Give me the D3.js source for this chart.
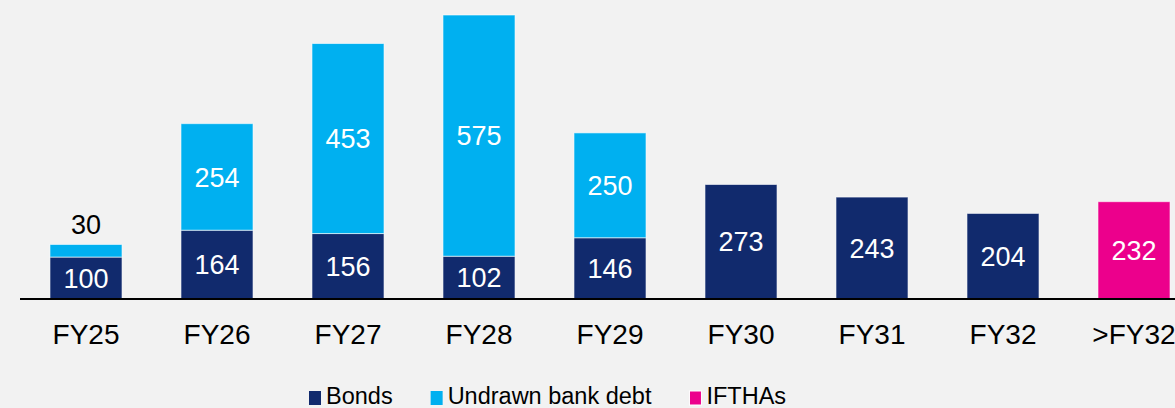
<!DOCTYPE html>
<html>
<head>
	<meta charset="utf-8">
	<title>Debt maturity profile</title>
	<style>
		html, body {
			margin: 0;
			padding: 0;
			background: #f2f2f2;
			overflow: hidden;
		}
		svg {
			display: block;
			font-family: 'Liberation Sans', Arial, sans-serif;
		}
	</style>
</head>
<body>
	<svg width="1175" height="408"></svg>
<script src="https://d3js.org/d3.v7.min.js"></script>
<script>

	// data
	const categories = ['FY25', 'FY26', 'FY27', 'FY28', 'FY29', 'FY30', 'FY31', 'FY32', '>FY32']
	const bonds   = [100, 164, 156, 102, 146, 273, 243, 204, 0]
	const undrawn = [30, 254, 453, 575, 250, 0, 0, 0, 0]
	const ifthas  = [0, 0, 0, 0, 0, 0, 0, 0, 232]

	const seriesNames = ['Bonds', 'Undrawn bank debt', 'IFTHAs']
	const seriesColors = ['#112a6d', '#00b0f0', '#ec008c']

	const width = 1175,
	    height = 408,
	    baseY = 299,
	    topY = 15

	let svg = d3.select('svg')

	let rows = categories.map((c, i) => ({
		cat: c,
		'Bonds': bonds[i],
		'Undrawn bank debt': undrawn[i],
		'IFTHAs': ifthas[i]
	}))

	let stack = d3.stack().keys(seriesNames)
	let stacked = stack(rows)

	let x = d3.scaleBand()
		.domain(categories)
		.range([20.5, 1199.5])
		.paddingInner(0.45)
		.paddingOuter(0.225)

	let yMax = d3.max(rows, d => d['Bonds'] + d['Undrawn bank debt'] + d['IFTHAs'])
	let y = d3.scaleLinear()
		.domain([0, yMax])
		.range([baseY, topY])

	let color = d3.scaleOrdinal()
		.domain(seriesNames)
		.range(seriesColors)

	// bars
	let layers = svg.append('g')
		.selectAll('g')
		.data(stacked)
		.join('g')
		.attr('fill', d => color(d.key))

	layers.selectAll('rect')
		.data(d => d.filter(s => s[1] - s[0] > 0))
		.join('rect')
		.attr('x', d => x(d.data.cat))
		.attr('y', d => y(d[1]))
		.attr('width', x.bandwidth())
		.attr('height', d => y(d[0]) - y(d[1]))
		.attr('stroke', 'rgba(255,255,255,0.6)')
		.attr('stroke-width', 1)

	// value labels
	let labelData = []
	stacked.forEach(layer => {
		layer.forEach(s => {
			let v = s[1] - s[0]
			if (v > 0) labelData.push({cat: s.data.cat, v: v, y0: s[0], y1: s[1]})
		})
	})

	svg.append('g')
		.selectAll('text')
		.data(labelData)
		.join('text')
		.attr('x', d => x(d.cat) + x.bandwidth() / 2)
		.attr('y', d => {
			let h = y(d.y0) - y(d.y1)
			if (h < 30) return y(d.y1) - 10
			return (y(d.y0) + y(d.y1)) / 2
		})
		.attr('dy', d => (y(d.y0) - y(d.y1) < 30) ? 0 : '0.36em')
		.attr('text-anchor', 'middle')
		.attr('fill', d => (y(d.y0) - y(d.y1) < 30) ? '#000' : '#fff')
		.style('font-size', '27px')
		.text(d => d.v)

	// x axis
	let axis = svg.append('g')
		.attr('transform', `translate(0, ${baseY})`)
		.call(d3.axisBottom(x).tickSize(0).tickPadding(0))

	axis.select('.domain')
		.attr('d', `M20,0H${width}`)
		.attr('stroke', '#000')
		.attr('stroke-width', 2)

	axis.selectAll('text')
		.attr('y', 45)
		.attr('dy', 0)
		.attr('fill', '#000')
		.style('font-size', '28px')
		.style('font-family', "'Liberation Sans', Arial, sans-serif")

	// legend
	let legend = svg.append('g')
	let lx = 309
	seriesNames.forEach((name, i) => {
		legend.append('rect')
			.attr('x', lx)
			.attr('y', 391)
			.attr('width', 12)
			.attr('height', 14)
			.attr('fill', color(name))
			.attr('stroke', i == 2 ? '#fff' : 'none')
			.attr('stroke-width', 1)
		let t = legend.append('text')
			.attr('x', lx + 17)
			.attr('y', 404)
			.attr('fill', '#000')
			.style('font-size', '23.5px')
			.text(name)
		lx = lx + 17 + t.node().getComputedTextLength() + 38
	})

</script>
</body>
</html>
